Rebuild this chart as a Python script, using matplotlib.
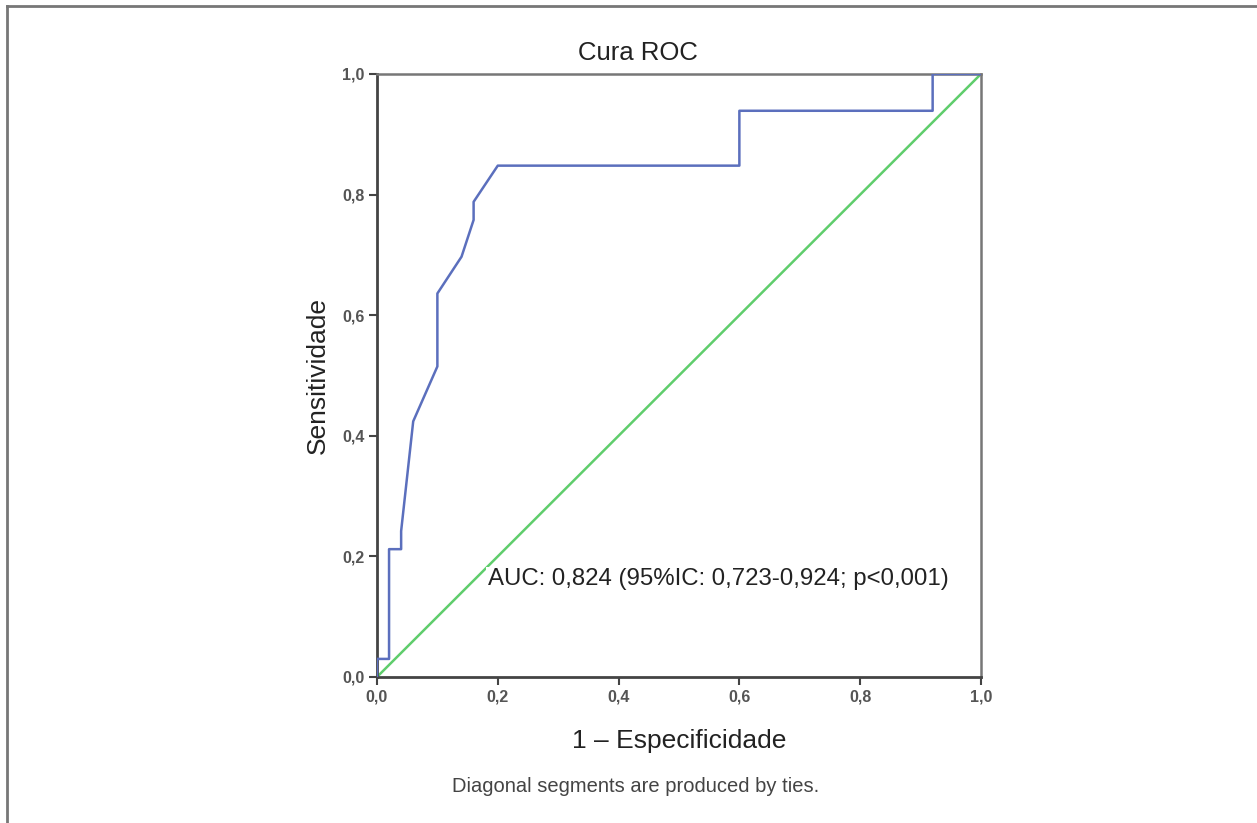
import matplotlib.pyplot as plt
from matplotlib.lines import Line2D

# ROC curve points (1 - specificity, sensitivity)
fpr = [0.0, 0.0, 0.02, 0.02, 0.04, 0.04, 0.06, 0.10, 0.10, 0.14, 0.16, 0.16, 0.20,
       0.60, 0.60, 0.92, 0.92, 1.0]
tpr = [0.0, 0.030, 0.030, 0.212, 0.212, 0.242, 0.424, 0.515, 0.636, 0.697, 0.758, 0.788, 0.848,
       0.848, 0.939, 0.939, 1.0, 1.0]
ref_line = [0.0, 1.0]
ticks = [0.0, 0.2, 0.4, 0.6, 0.8, 1.0]
tick_labels = ["0,0", "0,2", "0,4", "0,6", "0,8", "1,0"]

auc_text = "AUC: 0,824 (95%IC: 0,723-0,924; p<0,001)"

plt.rcParams['font.family'] = ['Liberation Sans', 'DejaVu Sans']

fig = plt.figure(figsize=(12.57, 8.23), dpi=100)
ax = fig.add_axes([0.2999, 0.1774, 0.4805, 0.7327])

ax.plot(ref_line, ref_line, color="#5fcd6c", lw=1.8, zorder=2)
ax.plot(fpr, tpr, color="#5b6fbd", lw=1.8, zorder=3)

ax.set_xlim(0, 1)
ax.set_ylim(0, 1)
ax.set_xticks(ticks)
ax.set_yticks(ticks)
ax.set_xticklabels(tick_labels)
ax.set_yticklabels(tick_labels)
ax.tick_params(direction="out", length=6, width=1.5, color="#444444",
               labelsize=11.5, labelcolor="#555555", pad=3)
for lab in ax.get_xticklabels() + ax.get_yticklabels():
    lab.set_fontweight("bold")

for side in ["left", "bottom"]:
    ax.spines[side].set_color("#444444")
    ax.spines[side].set_linewidth(2)
for side in ["top", "right"]:
    ax.spines[side].set_color("#777777")
    ax.spines[side].set_linewidth(1.8)

# title sits a little left of the axes centre in the original
fig.text(0.5075, 0.936, "Cura ROC", fontsize=18.5, color="#222222", ha="center", va="center")
ax.set_xlabel("1 \u2013 Especificidade", fontsize=19, color="#222222", labelpad=18)
ax.set_ylabel("Sensitividade", fontsize=19, color="#222222", labelpad=9)

ax.text(0.183, 0.162, auc_text, fontsize=17.3, color="#222222", va="center", ha="left",
        zorder=4, bbox=dict(facecolor="white", edgecolor="none", pad=1))

fig.text(0.506, 0.044, "Diagonal segments are produced by ties.", fontsize=14.5,
         color="#444444", ha="center", va="center")

# page border on top and left
fig.add_artist(Line2D([0.0053, 0.0053], [0, 0.993], transform=fig.transFigure,
                      color="#777777", lw=2))
fig.add_artist(Line2D([0.0053, 1.0], [0.993, 0.993], transform=fig.transFigure,
                      color="#777777", lw=2))

plt.savefig("out.png", dpi=100)
